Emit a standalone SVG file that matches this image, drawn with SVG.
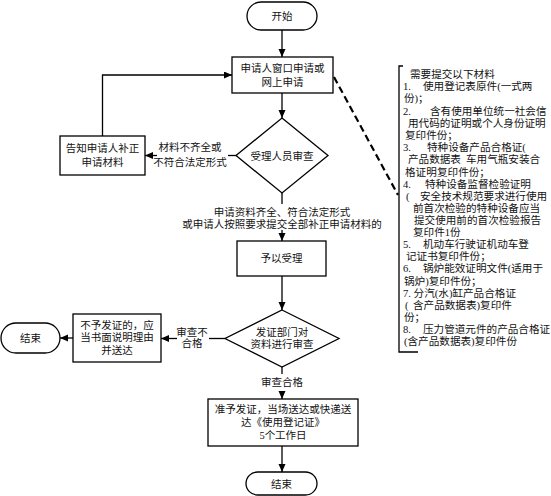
<svg xmlns="http://www.w3.org/2000/svg" width="551" height="496" viewBox="0 0 551 496">
<defs>
<marker id="ah" markerUnits="userSpaceOnUse" markerWidth="9" markerHeight="8" refX="8" refY="3.5" orient="auto">
<path d="M0,0 L8,3.5 L0,7 z" fill="#000"/>
</marker>
<style>
.n{fill:#fff;stroke:#000;stroke-width:1.3}
.t{font-family:"Liberation Serif","Noto Sans CJK SC",serif;font-size:10.5px;fill:#111;text-anchor:middle}
.a{font-family:"Liberation Serif","Noto Sans CJK SC",serif;font-size:10.6px;fill:#111}
.c{fill:none;stroke:#000;stroke-width:1.3}
.ar{marker-end:url(#ah)}
</style>
</defs>
<rect width="551" height="496" fill="#fff"/>
<g id="connectors">
<path class="c ar" d="M282,30 V57"/>
<path class="c ar" d="M282,93 V118"/>
<path class="c" d="M236,155.5 H228"/>
<path class="c ar" d="M157,155.5 H145"/>
<path class="c ar" d="M102.5,136 V75 H232"/>
<path class="c" d="M282,193 V204"/>
<path class="c ar" d="M282,230 V241"/>
<path class="c ar" d="M282,276 V310"/>
<path class="c" d="M225,338.5 H209"/>
<path class="c ar" d="M177,338.5 H161"/>
<path class="c ar" d="M73,338 H60"/>
<path class="c" d="M282,367 V374"/>
<path class="c ar" d="M282,391 V399"/>
<path class="c ar" d="M282,446 V472"/>
<path d="M334,77 L398,195" fill="none" stroke="#000" stroke-width="2.2" stroke-dasharray="7,4"/>
<text class="t" x="190" y="151">材料不齐全或</text>
<text class="t" x="190" y="166">不符合法定形式</text>
<text class="t" x="282" y="216">申请资料齐全、符合法定形式</text>
<text class="t" x="282" y="228">或申请人按照要求提交全部补正申请材料的</text>
<text class="t" x="192" y="336">审查不</text>
<text class="t" x="192" y="347">合格</text>
<text class="t" x="282" y="386">审查合格</text>
</g>
<g id="start">
<rect class="n" x="247" y="2" width="70" height="28" rx="14"/>
<text class="t" x="282" y="20">开始</text>
</g>
<g id="apply">
<rect class="n" x="232" y="57" width="101" height="36"/>
<text class="t" x="282.5" y="72">申请人窗口申请或</text>
<text class="t" x="282.5" y="86">网上申请</text>
</g>
<g id="review1">
<polygon class="n" points="282,118 328,155.5 282,193 236,155.5"/>
<text class="t" x="282" y="159.5">受理人员审查</text>
</g>
<g id="notify">
<rect class="n" x="60" y="136" width="85" height="39"/>
<text class="t" x="102.5" y="152">告知申请人补正</text>
<text class="t" x="102.5" y="166">申请材料</text>
</g>
<g id="accept">
<rect class="n" x="237" y="241" width="89" height="35"/>
<text class="t" x="281.5" y="262">予以受理</text>
</g>
<g id="review2">
<polygon class="n" points="282,310 339,338.5 282,367 225,338.5"/>
<text class="t" x="282" y="336">发证部门对</text>
<text class="t" x="282" y="348">资料进行审查</text>
</g>
<g id="reject">
<rect class="n" x="73" y="314" width="88" height="48"/>
<text class="t" x="117" y="329">不予发证的，应</text>
<text class="t" x="117" y="341">当书面说明理由</text>
<text class="t" x="117" y="354">并送达</text>
</g>
<g id="end1">
<rect class="n" x="1" y="323" width="59" height="30" rx="15"/>
<text class="t" x="30.5" y="342">结束</text>
</g>
<g id="issue">
<rect class="n" x="208" y="399" width="150" height="47"/>
<text class="t" x="283" y="413">准予发证，当场送达或快递送</text>
<text class="t" x="283" y="426">达《使用登记证》</text>
<text class="t" x="283" y="439">5个工作日</text>
</g>
<g id="end2">
<rect class="n" x="246" y="472" width="71" height="23" rx="11.5"/>
<text class="t" x="281.5" y="487.5">结束</text>
</g>
<g id="materials">
<path class="c" d="M403,66 H399 V352 H418"/>
<text class="a" x="410" y="78">需要提交以下材料</text>
<text class="a" x="403" y="90">1.</text><text class="a" x="423" y="90">使用登记表原件(一式两</text>
<text class="a" x="404" y="102">份)；</text>
<text class="a" x="403" y="115">2.</text><text class="a" x="430" y="115">含有使用单位统一社会信</text>
<text class="a" x="408" y="127">用代码的证明或个人身份证明</text>
<text class="a" x="405" y="139">复印件份；</text>
<text class="a" x="403" y="151">3.</text><text class="a" x="427" y="151">特种设备产品合格证(</text>
<text class="a" x="408" y="163">产品数据表</text><text class="a" x="466" y="163">车用气瓶安装合</text>
<text class="a" x="405" y="176">格证明</text><text class="a" x="437" y="176">复印件份；</text>
<text class="a" x="403" y="188">4.</text><text class="a" x="425" y="188">特种设备监督检验证明</text>
<text class="a" x="406" y="200">(</text><text class="a" x="420" y="200">安全技术规范要求进行使用</text>
<text class="a" x="413" y="212">前首次检验的特种设备应当</text>
<text class="a" x="414" y="224">提交使用前的首次检验报告</text>
<text class="a" x="413" y="236">复印件1份</text>
<text class="a" x="403" y="248">5.</text><text class="a" x="423" y="248">机动车行驶证机动车登</text>
<text class="a" x="406" y="260">记证书复印件份；</text>
<text class="a" x="403" y="272">6.</text><text class="a" x="423" y="272">锅炉能效证明文件(适用于</text>
<text class="a" x="404" y="285">锅炉)复印件份；</text>
<text class="a" x="403" y="297">7. 分汽(水)缸产品合格证</text>
<text class="a" x="405" y="309">(</text><text class="a" x="413" y="309">含产品数据表)复印件</text>
<text class="a" x="404" y="321">份；</text>
<text class="a" x="403" y="333">8.</text><text class="a" x="423" y="333">压力管道元件的产品合格证</text>
<text class="a" x="404" y="345">(含产品数据表)复印件份</text>
</g>
</svg>
